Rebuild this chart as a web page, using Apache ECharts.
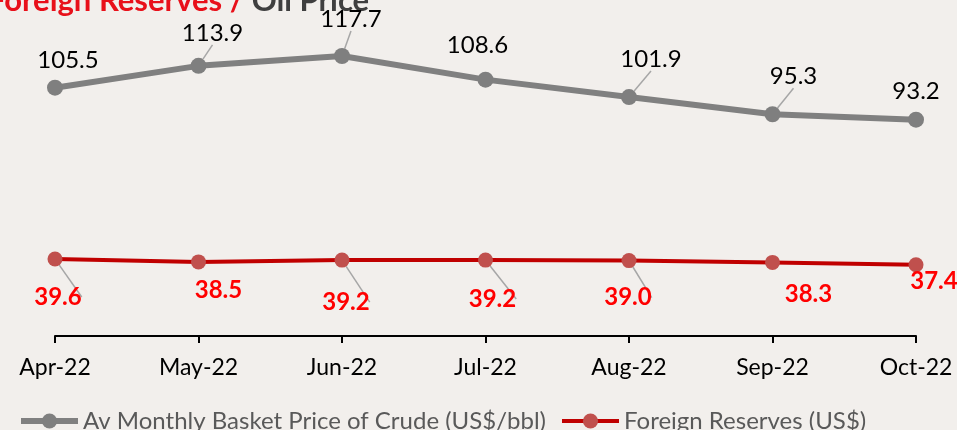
<!DOCTYPE html>
<html>
<head>
<meta charset="utf-8">
<script src="https://cdn.jsdelivr.net/npm/echarts@6/dist/echarts.min.js"></script>
<style>
html,body{margin:0;padding:0;background:#f2efec;}
#c{width:957px;height:430px;}
</style>
</head>
<body>
<div id="c"></div>
<script>
const categories = ['Apr-22','May-22','Jun-22','Jul-22','Aug-22','Sep-22','Oct-22'];
const crudePrice = [105.5, 113.9, 117.7, 108.6, 101.9, 95.3, 93.2];
const foreignReserves = [39.6, 38.5, 39.2, 39.2, 39.0, 38.3, 37.4];
const seriesNames = ['Av Monthly Basket Price of Crude (US$/bbl)', 'Foreign Reserves (US$)'];

// label offsets (layout only)
const crudeOffsets = [[13,-27],[14,-33],[9,-37],[-8,-34],[22,-38],[21,-38],[0,-28]];
const crudeLeaders = [false,true,true,false,true,true,false];
const resOffsets = [[3,38],[20,28],[4,42],[7,39],[-1,37],[36,32],[18,17]];
const resLeaders = [true,false,true,true,true,false,false];

const FONT = 'Lato';

function build(values, offsets, leaders){
  return values.map((v,i)=>({
    value: v,
    label: {offset: offsets[i]},
    labelLine: {show: leaders[i]}
  }));
}

const chart = echarts.init(document.getElementById('c'));
chart.setOption({
  backgroundColor: '#f2efec',
  animation: false,
  graphic: [{
    type: 'text',
    left: -12,
    top: -15,
    style: {
      text: '{r|Foreign Reserves /} {g|Oil Price}',
      rich: {
        r: {fill: '#e8101a', fontFamily: FONT, fontWeight: 'bold', fontSize: 31},
        g: {fill: '#3f3f3f', fontFamily: FONT, fontWeight: 'bold', fontSize: 31}
      },
      fontFamily: FONT, fontWeight: 'bold', fontSize: 31
    }
  }],
  legend: {
    left: 13,
    top: 404,
    itemWidth: 57,
    itemHeight: 19,
    itemGap: 14,
    textStyle: {fontFamily: FONT, fontSize: 24, color: '#595959'},
    data: [
      {name: seriesNames[0], lineStyle: {width: 6, color: '#808080'}, itemStyle: {color: '#7f7f7f'}},
      {name: seriesNames[1], lineStyle: {width: 4, color: '#c00000'}, itemStyle: {color: '#c0504d'}}
    ]
  },
  grid: {left: 55, right: 41, top: 24, bottom: 94},
  xAxis: {
    type: 'category',
    data: categories,
    boundaryGap: false,
    axisLine: {lineStyle: {color: '#000', width: 2}},
    axisTick: {show: true, length: 7, lineStyle: {color: '#000', width: 2}},
    axisLabel: {fontFamily: FONT, fontSize: 23, color: '#000', margin: 20}
  },
  yAxis: {
    type: 'value', min: 10, max: 130,
    show: false, splitLine: {show: false}
  },
  series: [{
    name: seriesNames[0],
    type: 'line',
    data: build(crudePrice, crudeOffsets, crudeLeaders),
    symbol: 'circle', symbolSize: 16,
    lineStyle: {color: '#808080', width: 6},
    itemStyle: {color: '#7f7f7f'},
    label: {show: true, position: 'inside', fontFamily: FONT, fontSize: 24, color: '#000',
      formatter: p => p.value.toFixed(1)},
    labelLine: {lineStyle: {color: '#a6a6a6', width: 1.5}}
  },{
    name: seriesNames[1],
    type: 'line',
    data: build(foreignReserves, resOffsets, resLeaders),
    symbol: 'circle', symbolSize: 15,
    lineStyle: {color: '#c00000', width: 4},
    itemStyle: {color: '#c0504d'},
    label: {show: true, position: 'inside', fontFamily: FONT, fontSize: 24, fontWeight: 'bold', color: '#ff0000',
      formatter: p => p.value.toFixed(1)},
    labelLine: {lineStyle: {color: '#a6a6a6', width: 1.5}}
  }]
});
</script>
</body>
</html>
